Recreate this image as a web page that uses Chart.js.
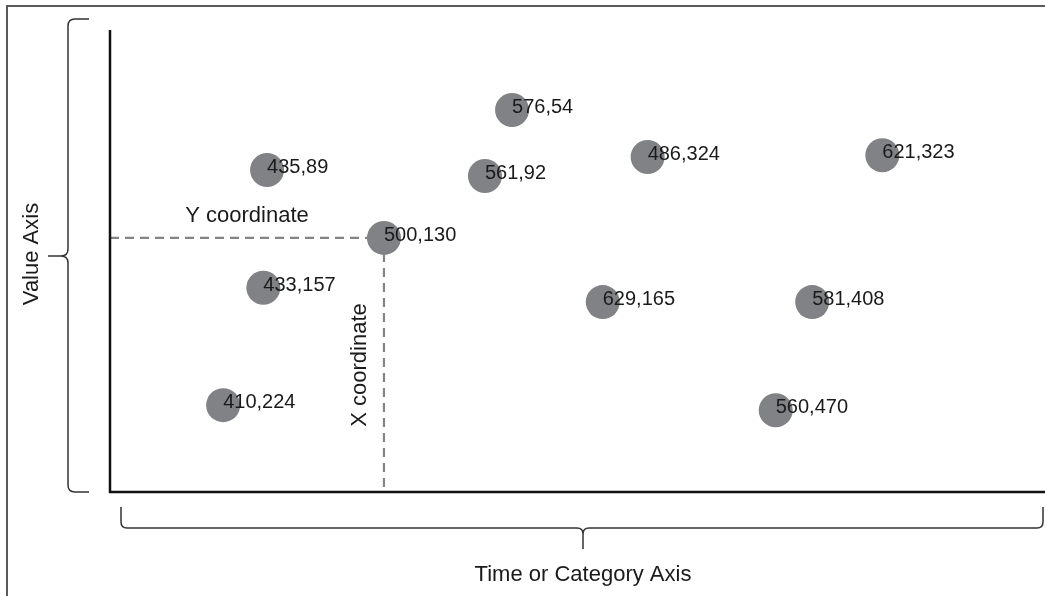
<!DOCTYPE html>
<html>
<head>
<meta charset="utf-8">
<script src="https://cdn.jsdelivr.net/npm/chart.js@4.4.1/dist/chart.umd.min.js"></script>
<style>
    body { margin: 0; background: #fff; }
    #wrap { width: 1045px; height: 596px; position: relative; }
</style>
</head>
<body>
<div id="wrap"><canvas id="coordChart"></canvas></div>
<script>
// Point positions on a 0-100 scale for each axis
const pointX = [16.8, 16.4, 12.1, 29.3, 43.0, 40.1, 57.5, 52.7, 82.6, 75.1, 71.2];
const pointY = [69.7, 44.2, 18.8, 55.0, 82.7, 68.4, 72.5, 41.1, 72.9, 41.1, 17.7];
const pointLabels = ['435,89', '433,157', '410,224', '500,130', '576,54', '561,92',
    '486,324', '629,165', '621,323', '581,408', '560,470'];
// Point that gets the dashed X / Y guides
const guideIndex = 3;
const xAxisTitle = 'Time or Category Axis';
const yAxisTitle = 'Value Axis';
const xGuideText = 'X coordinate';
const yGuideText = 'Y coordinate';

const FONT = '"Liberation Sans", Arial, sans-serif';

// Frame, axes, braces and dashed guides
const diagramPlugin = {
    id: 'diagram',
    beforeDatasetsDraw(chart) {
        const ctx = chart.ctx;
        const area = chart.chartArea;
        const meta = chart.getDatasetMeta(0);
        const p = meta.data[guideIndex];
        ctx.save();

        // outer frame (only left and top edges visible)
        ctx.strokeStyle = '#5a5a5a';
        ctx.lineWidth = 2;
        ctx.beginPath();
        ctx.moveTo(7, chart.height);
        ctx.lineTo(7, 6);
        ctx.lineTo(chart.width, 6);
        ctx.stroke();

        // dashed guides to the highlighted point
        ctx.strokeStyle = '#848484';
        ctx.lineWidth = 2.2;
        ctx.setLineDash([9, 6]);
        ctx.beginPath();
        ctx.moveTo(area.left, p.y);
        ctx.lineTo(p.x, p.y);
        ctx.moveTo(p.x, p.y);
        ctx.lineTo(p.x, area.bottom);
        ctx.stroke();
        ctx.setLineDash([]);

        // axes
        ctx.strokeStyle = '#111';
        ctx.lineWidth = 2.5;
        ctx.beginPath();
        ctx.moveTo(area.left, area.top);
        ctx.lineTo(area.left, area.bottom);
        ctx.lineTo(area.right, area.bottom);
        ctx.stroke();

        // left brace "{"
        ctx.strokeStyle = '#333';
        ctx.lineWidth = 1.5;
        const bx = 68, bTop = 19, bBot = area.bottom, bMid = 256;
        ctx.beginPath();
        ctx.moveTo(89, bTop);
        ctx.lineTo(75, bTop);
        ctx.quadraticCurveTo(bx, bTop, bx, bTop + 7);
        ctx.lineTo(bx, bMid - 7);
        ctx.quadraticCurveTo(bx, bMid, bx - 7, bMid);
        ctx.lineTo(48, bMid);
        ctx.moveTo(bx - 7, bMid);
        ctx.quadraticCurveTo(bx, bMid, bx, bMid + 7);
        ctx.lineTo(bx, bBot - 7);
        ctx.quadraticCurveTo(bx, bBot, bx + 7, bBot);
        ctx.lineTo(89, bBot);
        ctx.stroke();

        // bottom brace
        const hy = 528, hl = 121, hr = 1043, hTop = 507, hTip = 583;
        ctx.beginPath();
        ctx.moveTo(hl, hTop);
        ctx.lineTo(hl, hy - 6);
        ctx.quadraticCurveTo(hl, hy, hl + 6, hy);
        ctx.lineTo(hTip - 6, hy);
        ctx.quadraticCurveTo(hTip, hy, hTip, hy + 6);
        ctx.lineTo(hTip, 549);
        ctx.moveTo(hTip, hy + 6);
        ctx.quadraticCurveTo(hTip, hy, hTip + 6, hy);
        ctx.lineTo(hr - 6, hy);
        ctx.quadraticCurveTo(hr, hy, hr, hy - 6);
        ctx.lineTo(hr, hTop);
        ctx.stroke();

        // titles
        ctx.fillStyle = '#1a1a1a';
        ctx.font = '22px ' + FONT;
        ctx.textAlign = 'center';
        ctx.textBaseline = 'middle';
        ctx.fillText(xAxisTitle, hTip, 575);
        ctx.fillText(yGuideText, 247, 216);

        ctx.save();
        ctx.translate(32, 254);
        ctx.rotate(-Math.PI / 2);
        ctx.fillText(yAxisTitle, 0, 0);
        ctx.restore();

        ctx.save();
        ctx.translate(360, 365);
        ctx.rotate(-Math.PI / 2);
        ctx.fillText(xGuideText, 0, 0);
        ctx.restore();

        ctx.restore();
    },
    afterDatasetsDraw(chart) {
        const ctx = chart.ctx;
        const meta = chart.getDatasetMeta(0);
        ctx.save();
        ctx.fillStyle = '#1a1a1a';
        ctx.font = '20px ' + FONT;
        ctx.textAlign = 'left';
        ctx.textBaseline = 'alphabetic';
        meta.data.forEach((pt, i) => {
            ctx.fillText(pointLabels[i], pt.x, pt.y + 3);
        });
        ctx.restore();
    }
};

const ctx = document.getElementById('coordChart').getContext('2d');
new Chart(ctx, {
    type: 'scatter',
    data: {
        datasets: [{
            data: pointX.map((x, i) => ({ x: x, y: pointY[i] })),
            backgroundColor: '#808285',
            borderWidth: 0,
            pointRadius: 17,
            pointHoverRadius: 17,
            clip: false
        }]
    },
    options: {
        responsive: true,
        maintainAspectRatio: false,
        animation: false,
        layout: {
            autoPadding: false,
            padding: { left: 110, top: 30, right: 0, bottom: 104 }
        },
        scales: {
            x: { type: 'linear', min: 0, max: 100, display: false },
            y: { type: 'linear', min: 0, max: 100, display: false }
        },
        plugins: {
            legend: { display: false },
            tooltip: { enabled: false }
        }
    },
    plugins: [diagramPlugin]
});
</script>
</body>
</html>
